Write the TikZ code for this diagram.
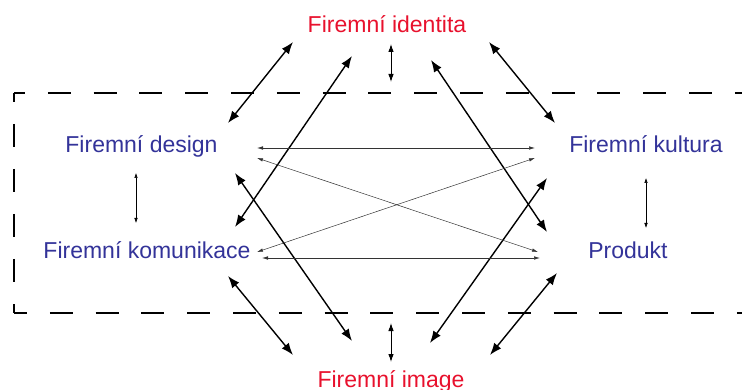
\documentclass[tikz,border=0pt]{standalone}
\usepackage{fontspec}
\setmainfont{Liberation Sans}
\usetikzlibrary{arrows.meta}
\definecolor{idred}{HTML}{E8112D}
\definecolor{lblue}{HTML}{333399}
\begin{document}
\begin{tikzpicture}[x=1pt,y=-1pt,
  lbl/.style={font=\fontsize{23}{26}\selectfont, anchor=base, inner sep=0pt},
  redlbl/.style={lbl, text=idred},
  bluelbl/.style={lbl, text=lblue},
  bigarr/.style={line width=1.4pt, {Latex[length=12pt,width=9pt]}-{Latex[length=12pt,width=9pt]}},
  midarr/.style={line width=0.9pt, {Latex[length=8pt,width=5.5pt]}-{Latex[length=8pt,width=5.5pt]}},
  smallarr/.style={line width=0.5pt, {Latex[length=5pt,width=3.5pt]}-{Latex[length=5pt,width=3.5pt]}},
  crossarr/.style={line width=0.5pt, draw=black!80, {Latex[length=6pt,width=3.5pt]}-{Latex[length=6pt,width=3.5pt]}},
  frame/.style={line width=1.6pt, dash pattern=on 23pt off 22.8pt}
]
\useasboundingbox (0,0) rectangle (742,390);

% dashed frame (open to the right)
\draw[frame, dash phase=12pt] (14,93) -- (760,93);
\draw[frame, dash pattern=on 23pt off 22pt, dash phase=14pt] (14,93) -- (14,313);
\draw[frame, dash phase=10pt] (14,313) -- (760,313);

% labels
\node[redlbl]  (ident) at (387,33)  {Firemní identita};
\node[redlbl]  (image) at (391,387) {Firemní image};
\node[bluelbl] (design) at (141.5,153) {Firemní design};
\node[bluelbl] (komun)  at (147,259)   {Firemní komunikace};
\node[bluelbl] (kult)   at (646,153)   {Firemní kultura};
\node[bluelbl] (prod)   at (628,259)   {Produkt};

% arrow end points
\coordinate (i1) at (293,42);  \coordinate (d1) at (228,123);
\coordinate (i2) at (352,56);  \coordinate (k1) at (235,227);
\coordinate (i3) at (431,60);  \coordinate (p1) at (547,232);
\coordinate (i4) at (489,42);  \coordinate (c1) at (555,123);
\coordinate (i5) at (391,44);  \coordinate (f5) at (391,82);

\coordinate (m1) at (352,341); \coordinate (d2) at (235,173);
\coordinate (m2) at (293,355); \coordinate (k2) at (228,276);
\coordinate (m3) at (430,343); \coordinate (c2) at (547,178);
\coordinate (m4) at (490,355); \coordinate (p2) at (557,273);
\coordinate (m5) at (391,323); \coordinate (f6) at (391,362);

\coordinate (dv1) at (136,173); \coordinate (kv1) at (136,223);
\coordinate (cv1) at (646,178); \coordinate (pv1) at (646,228);

\coordinate (dh1) at (257,148); \coordinate (ch1) at (535,148);
\coordinate (dh2) at (257,158); \coordinate (ph2) at (538,252);
\coordinate (kh1) at (257,252); \coordinate (ch2) at (535,158);
\coordinate (kh2) at (262,258); \coordinate (ph1) at (540,258);

% thick arrows
\draw[bigarr] (i1) -- (d1);
\draw[bigarr] (i2) -- (k1);
\draw[bigarr] (i3) -- (p1);
\draw[bigarr] (i4) -- (c1);
\draw[bigarr] (m1) -- (d2);
\draw[bigarr] (m2) -- (k2);
\draw[bigarr] (m3) -- (c2);
\draw[bigarr] (m4) -- (p2);

% short vertical arrows
\draw[midarr] (i5) -- (f5);
\draw[midarr] (m5) -- (f6);
\draw[smallarr] (dv1) -- (kv1);
\draw[smallarr] (cv1) -- (pv1);

% thin cross arrows
\draw[crossarr] (dh1) -- (ch1);
\draw[crossarr] (dh2) -- (ph2);
\draw[crossarr] (kh1) -- (ch2);
\draw[crossarr] (kh2) -- (ph1);
\end{tikzpicture}
\end{document}
